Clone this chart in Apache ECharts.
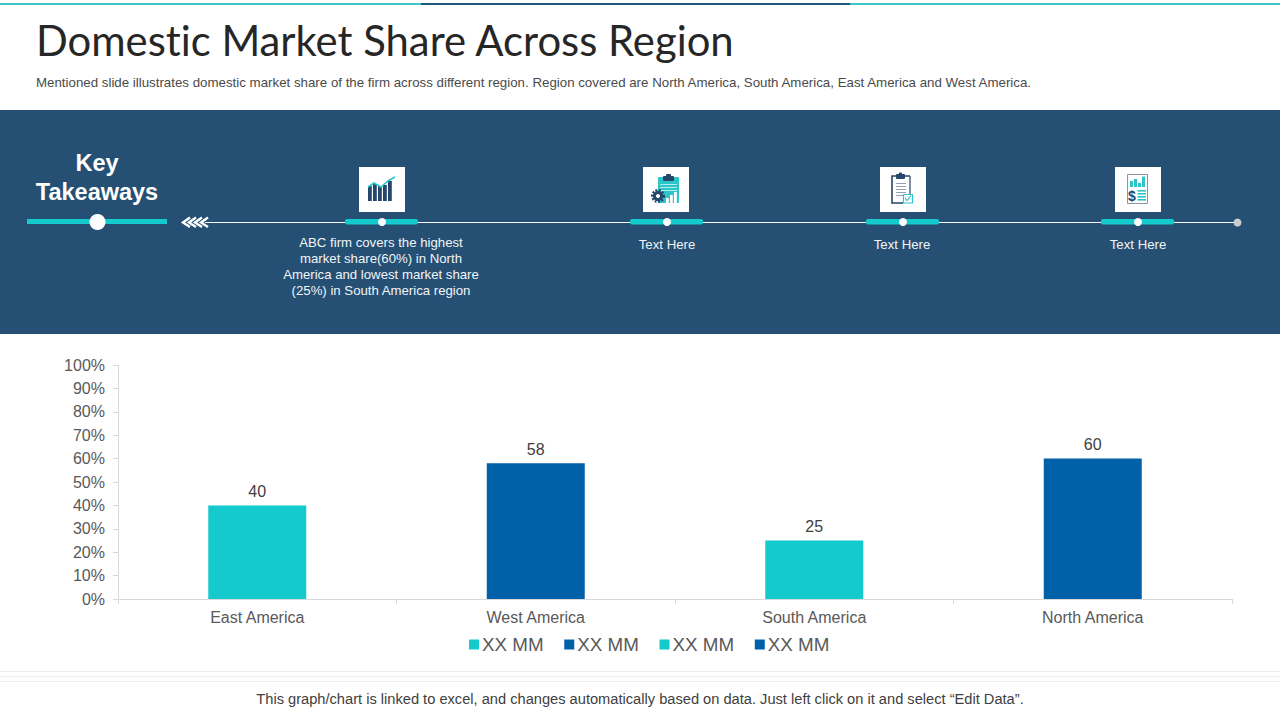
<!DOCTYPE html>
<html><head><meta charset="utf-8">
<style>html,body{margin:0;padding:0;background:#fff}#c{width:1280px;height:720px}svg text{font-variant-ligatures:none}</style>
<script src="https://cdn.jsdelivr.net/npm/echarts@6/dist/echarts.min.js"></script>
</head><body><div id="c"></div>
<script>
const categories = ['East America','West America','South America','North America'];
const legendLabels = ['XX MM 1','XX MM 2','XX MM 3','XX MM 4'];
const eastValues = [40,null,null,null];
const westValues = [null,58,null,null];
const southValues = [null,null,25,null];
const northValues = [null,null,null,60];
const teal='#14CACD', blue='#0060A8', navy='#254F73', dark='#24476B';
const F='"Liberation Sans",Arial,sans-serif';
function mk(name,data,color){return {name,type:'bar',stack:'s',data,barWidth:98,itemStyle:{color},
  label:{show:true,position:'top',distance:6,fontFamily:F,fontSize:16,color:'#404040',formatter:p=>p.value==null?'':p.value}};}
const R=(x,y,w,h,fill,r)=>({type:'rect',shape:{x,y,width:w,height:h,r:r||0},style:{fill}});
const C=(cx,cy,r,fill)=>({type:'circle',shape:{cx,cy,r},style:{fill}});
const L=(pts,stroke,w)=>({type:'polyline',shape:{points:pts},style:{stroke,fill:'none',lineWidth:w||1}});
const T=(x,y,text,size,fill,extra)=>({type:'text',x,y,style:Object.assign({text,fontFamily:F,fontSize:size,fill,textAlign:'center',textVerticalAlign:'middle'},extra||{})});
const g=[];
g.push(R(0,3,421,2,'#3FC6C9'),R(421,3,429,2,'#1F5878'),R(850,3,430,2,'#3FC6C9'));
g.push(T(36,40,'Domestic Market Share Across Region',41.8,'#262626',{textAlign:'left',fontFamily:'Lato'}));
g.push(T(36,82,'Mentioned slide illustrates domestic market share of the firm across different region. Region covered are North America, South America, East America and West America.',13.3,'#4A4A4A',{textAlign:'left'}));
g.push(R(0,110,1280,224,navy));
g.push(T(97,163,'Key',23.5,'#fff',{fontWeight:'bold'}),T(97,191.5,'Takeaways',23.5,'#fff',{fontWeight:'bold'}));
g.push(R(27,219,140,5,teal),C(97.5,222,8,'#fff'));
g.push(R(205,222,1032,1,'#F4F7F9'));
[181,187,193,199].forEach(x=>g.push(L([[x+9,217.5],[x+2,222.5],[x+9,227]],'#fff',2.4)));
g.push(C(1237.5,222.5,4,'#C9CDD2'));
[[345,382,359],[630,667,643],[866,903,880],[1101,1138,1115]].forEach(([b,d,i])=>{
  g.push(R(b,219,73,5.5,teal,2),C(d,222,4,'#fff'),R(i,167,46,45,'#fff'));
});
// icon 1: rising chart
[[368,186],[373,184],[378,186],[383,185],[388,181]].forEach(([x,y])=>g.push(R(x,y,3.8,201-y,dark)));
g.push(L([[368,187],[374,183],[381,187],[388,181],[395,177]],'#2CC5C8',1.6));
// icon 2: clipboard + gear
g.push(R(658,177,21,26,'#2CC5C8',1),R(663,176,11,5,dark,1),R(666,174,5,3,dark,1));
g.push(R(660,184,17,1,'#B5EDEE'),R(660,187,17,1,'#B5EDEE'),R(660,190,17,1,'#B5EDEE'));
g.push(R(666,198,2.8,5,'#fff'),R(670,195,2.8,8,'#fff'),R(674,192,2.8,11,'#fff'));
g.push({type:'circle',shape:{cx:658,cy:196,r:6},style:{fill:'none',stroke:dark,lineWidth:2,lineDash:[2,1.6]}});
g.push(C(658,196,5.2,dark),C(658,196,2,'#fff'));
// icon 3: clipboard + check
g.push(L([[910,176],[892,176],[892,203],[903,203]],dark,1.6),L([[910,176],[910,194]],dark,1.2));
g.push(R(896,174,9,5,dark,1),C(900.5,174,1.6,dark));
[183,186,189,192,195].forEach(y=>g.push(R(896,y,10,0.9,'#8a97a5')));
g.push({type:'rect',shape:{x:903.5,y:194.5,width:9,height:8.5},style:{fill:'#fff',stroke:'#2CC5C8',lineWidth:1.2}},L([[905,198],[907,200.5],[911,195.5]],'#2CC5C8',1.2));
// icon 4: report with $
g.push({type:'rect',shape:{x:1127.5,y:174.5,width:20,height:29},style:{fill:'#fff',stroke:'#8b96a3',lineWidth:1}});
[[1130,181],[1134,179],[1138,183],[1142,176.5]].forEach(([x,y])=>g.push(R(x,y,3,187-y,'#2CC5C8')));
[190,193,196,199].forEach(y=>g.push(R(1137.5,y,8.5,1.6,'#2CC5C8')));
g.push(T(1132,196,'$',14,dark,{fontWeight:'bold'}));
// timeline captions
['ABC firm covers the highest','market share(60%) in North','America and lowest market share','(25%) in South America region'].forEach((s,k)=>g.push(T(381,242.5+16*k,s,13.2,'#F2F5F8')));
[667,902,1138].forEach(x=>g.push(T(x,244.5,'Text Here',13.2,'#F2F5F8')));
// footer
[671,676,681].forEach(y=>g.push(R(0,y,1280,1,'#EEEEEE')));
g.push(T(640,699,'This graph/chart is linked to excel, and changes automatically based on data. Just left click on it and select “Edit Data”.',14.65,'#404040'));

const chart=echarts.init(document.getElementById('c'),null,{renderer:'svg'});
chart.setOption({
  animation:false,
  backgroundColor:'#fff',
  grid:{left:118,right:48,top:365,bottom:121,containLabel:false},
  legend:{data:legendLabels,left:464,top:630,itemWidth:10,itemHeight:10,itemGap:20.7,
    icon:'rect',formatter:()=>'XX MM',textStyle:{fontFamily:F,fontSize:18.8,color:'#595959',padding:[0,0,0,-2]}},
  xAxis:{type:'category',data:categories,
    axisLine:{lineStyle:{color:'#D9D9D9'}},axisTick:{show:true,alignWithLabel:false,length:5,lineStyle:{color:'#D9D9D9'}},
    axisLabel:{fontFamily:F,fontSize:16,color:'#595959',margin:10}},
  yAxis:{type:'value',min:0,max:100,interval:10,
    axisLine:{show:true,lineStyle:{color:'#D9D9D9'}},axisTick:{show:true,length:5,lineStyle:{color:'#D9D9D9'}},splitLine:{show:false},
    axisLabel:{fontFamily:F,fontSize:16,color:'#595959',margin:13,padding:[0,0,3,0],formatter:'{value}%'}},
  series:[mk(legendLabels[0],eastValues,teal),mk(legendLabels[1],westValues,blue),mk(legendLabels[2],southValues,teal),mk(legendLabels[3],northValues,blue)],
  graphic:{elements:g.map(e=>Object.assign({silent:true},e))}
});
</script></body></html>
